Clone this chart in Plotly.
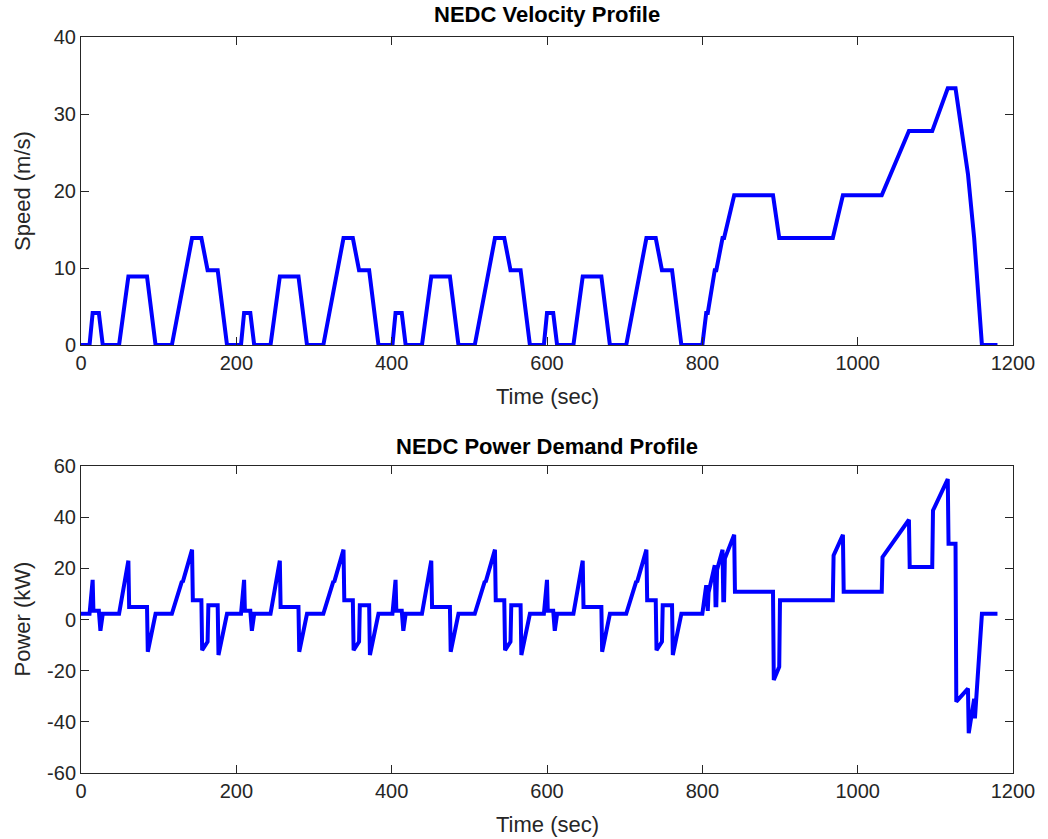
import plotly.graph_objects as go

# ---------------- Data ----------------
# Velocity profile: breakpoints (time in s, speed in m/s)
speed_time = [0, 11, 15, 23, 28, 49, 61, 85, 96, 117, 143, 155, 163, 176, 188,
              206, 210, 218, 223, 244, 256, 280, 291, 312, 338, 350, 358, 371, 383,
              401, 405, 413, 418, 439, 451, 475, 486, 507, 533, 545, 553, 566, 578,
              596, 600, 608, 613, 634, 646, 670, 681, 702, 728, 740, 748, 761, 773,
              800, 805, 807, 816, 818, 826, 828, 841, 891, 899, 968, 981, 1031, 1066,
              1096, 1116, 1126, 1142, 1150, 1160, 1180]
speed_ms = [0, 0, 4.17, 4.17, 0, 0, 8.89, 8.89, 0, 0, 13.89, 13.89, 9.72, 9.72, 0,
            0, 4.17, 4.17, 0, 0, 8.89, 8.89, 0, 0, 13.89, 13.89, 9.72, 9.72, 0,
            0, 4.17, 4.17, 0, 0, 8.89, 8.89, 0, 0, 13.89, 13.89, 9.72, 9.72, 0,
            0, 4.17, 4.17, 0, 0, 8.89, 8.89, 0, 0, 13.89, 13.89, 9.72, 9.72, 0,
            0, 4.17, 4.17, 9.72, 9.72, 13.89, 13.89, 19.44, 19.44, 13.89, 13.89, 19.44, 19.44, 27.78,
            27.78, 33.33, 33.33, 22.22, 13.89, 0, 0]

# Power demand profile: breakpoints (time in s, power in kW)
power_time = [0, 11, 15, 16, 23, 25, 28, 49, 61, 62, 85, 86, 96, 117, 130, 131, 143, 144, 155, 156, 163, 164, 176, 177, 188,
              206, 210, 211, 218, 220, 223, 244, 256, 257, 280, 281, 291, 312, 325, 326, 338, 339, 350, 351, 358, 359, 371, 372, 383,
              401, 405, 406, 413, 415, 418, 439, 451, 452, 475, 476, 486, 507, 520, 521, 533, 534, 545, 546, 553, 554, 566, 567, 578,
              596, 600, 601, 608, 610, 613, 634, 646, 647, 670, 671, 681, 702, 715, 716, 728, 729, 740, 741, 748, 749, 761, 762, 773,
              800, 805, 806, 807, 808, 816, 817, 818, 819, 826, 827, 828, 829, 841, 842, 891, 892, 899, 900, 968,
              969, 981, 982, 1031, 1032, 1066, 1067, 1096, 1097, 1116, 1117, 1126, 1127, 1142, 1143, 1150, 1151, 1160, 1180]
power_kw = [2.2, 2.2, 15.5, 3.4, 3.4, -4.4, 2.2, 2.2, 23, 4.9, 4.9, -12.6, 2.2, 2.2, 15, 14.6, 27.3, 7.5, 7.5, -12, -8.7, 5.6, 5.6, -13.9, 2.2,
            2.2, 15.5, 3.4, 3.4, -4.4, 2.2, 2.2, 23, 4.9, 4.9, -12.6, 2.2, 2.2, 15, 14.6, 27.3, 7.5, 7.5, -12, -8.7, 5.6, 5.6, -13.9, 2.2,
            2.2, 15.5, 3.4, 3.4, -4.4, 2.2, 2.2, 23, 4.9, 4.9, -12.6, 2.2, 2.2, 15, 14.6, 27.3, 7.5, 7.5, -12, -8.7, 5.6, 5.6, -13.9, 2.2,
            2.2, 15.5, 3.4, 3.4, -4.4, 2.2, 2.2, 23, 4.9, 4.9, -12.6, 2.2, 2.2, 15, 14.6, 27.3, 7.5, 7.5, -12, -8.7, 5.6, 5.6, -13.9, 2.2,
            2.2, 13.4, 3.4, 3.4, 10.5, 21.2, 5.6, 5.6, 19.5, 27.3, 7.5, 7.5, 23.8, 33.1, 10.8, 10.8, -23.6, -18.5, 7.5, 7.5,
            25, 33.1, 10.8, 10.8, 24.4, 39, 20.5, 20.5, 42.6, 54.9, 29.6, 29.6, -32.1, -27, -44.4, -31, -38.6, 2.2, 2.2]

x_ticks = [0, 200, 400, 600, 800, 1000, 1200]
speed_ticks = [0, 10, 20, 30, 40]
power_ticks = [-60, -40, -20, 0, 20, 40, 60]
power_tick_labels = ["-60", "-40", "-20", "0", "20", "40", "60"]

titles = ["NEDC Velocity Profile", "NEDC Power Demand Profile"]
x_label = "Time (sec)"
y_labels = ["Speed (m/s)", "Power (kW)"]

# ---------------- Figure ----------------
W, H = 1048, 839
L, R, T, B = 81, 35, 37, 66
ph = H - T - B
top_dom = [(H - B - 345) / ph, 1.0]
bot_dom = [0.0, (H - B - 466) / ph]

FONT = "Liberation Sans, Arial, Helvetica, sans-serif"
TXT = "#262626"
LINE_BLUE = "#0000FF"

fig = go.Figure()
fig.add_trace(go.Scatter(x=speed_time, y=speed_ms, mode="lines",
                         line=dict(color=LINE_BLUE, width=4), xaxis="x", yaxis="y",
                         showlegend=False, hoverinfo="x+y"))
fig.add_trace(go.Scatter(x=power_time, y=power_kw, mode="lines",
                         line=dict(color=LINE_BLUE, width=4), xaxis="x2", yaxis="y2",
                         showlegend=False, hoverinfo="x+y"))

axis_common = dict(showgrid=False, zeroline=False, showline=True, linecolor=TXT, linewidth=1,
                   mirror="allticks", ticks="inside", ticklen=8, tickwidth=1, tickcolor=TXT,
                   tickfont=dict(family=FONT, size=20, color=TXT))

fig.update_layout(
    width=W, height=H,
    margin=dict(l=L, r=R, t=T, b=B),
    paper_bgcolor="white", plot_bgcolor="white",
    font=dict(family=FONT, color=TXT),
    xaxis=dict(domain=[0, 1], range=[0, 1200], tickvals=x_ticks, anchor="y", **axis_common),
    yaxis=dict(domain=top_dom, range=[0, 40], tickvals=speed_ticks, anchor="x", **axis_common),
    xaxis2=dict(domain=[0, 1], range=[0, 1200], tickvals=x_ticks, anchor="y2", **axis_common),
    yaxis2=dict(domain=bot_dom, range=[-60, 60], tickvals=power_ticks, ticktext=power_tick_labels,
                anchor="x2", **axis_common),
)

ann = []
# titles
for dom, txt, ys in [(top_dom, titles[0], 8), (bot_dom, titles[1], 5)]:
    ann.append(dict(text="<b>" + txt + "</b>", xref="paper", yref="paper", x=0.5, y=dom[1],
                    xanchor="center", yanchor="bottom", yshift=ys, showarrow=False,
                    font=dict(family=FONT, size=22, color="black")))
    ann.append(dict(text=x_label, xref="paper", yref="paper", x=0.5, y=dom[0],
                    xanchor="center", yanchor="middle", yshift=-51, showarrow=False,
                    font=dict(family=FONT, size=22, color=TXT)))
for dom, txt in [(top_dom, y_labels[0]), (bot_dom, y_labels[1])]:
    ann.append(dict(text=txt, xref="paper", yref="paper", x=0, y=(dom[0] + dom[1]) / 2,
                    xanchor="center", yanchor="middle", xshift=-59, textangle=-90, showarrow=False,
                    font=dict(family=FONT, size=22, color=TXT)))
fig.update_layout(annotations=ann)

fig.write_html("out.html", config={"displayModeBar": False},
               post_script="document.body.style.margin='0px';document.body.style.overflow='hidden';")
